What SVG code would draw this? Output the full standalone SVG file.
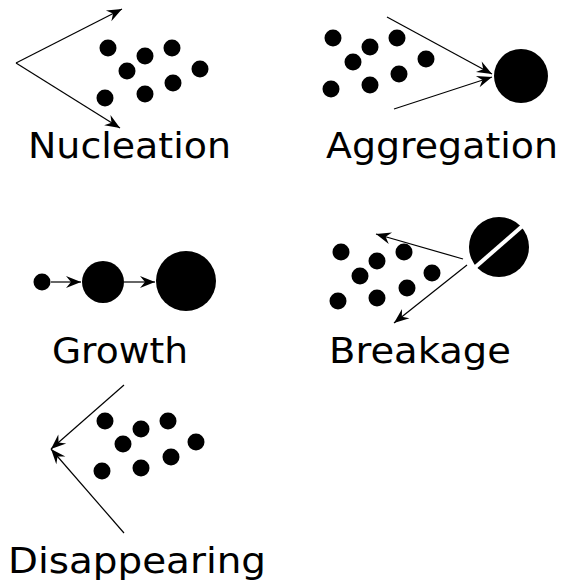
<svg xmlns="http://www.w3.org/2000/svg" width="562" height="583" viewBox="0 0 562 583">
  <style>
    .dot { fill: #000; }
    .link { stroke: #000; stroke-width: 1.2; fill: none; }
    .lbl { font-family: "DejaVu Sans", "Liberation Sans", sans-serif; font-size: 36px; fill: #000; }
  </style>
  <defs>
    <!-- concave filled arrowhead, tip at origin -->
    <marker id="head" viewBox="-16 -7 18 14" markerWidth="18" markerHeight="14" refX="0" refY="0" orient="auto" markerUnits="userSpaceOnUse">
      <path d="M0,0 L-15,-6 L-10,0 L-15,6 Z" fill="#000"/>
    </marker>
  </defs>

  <rect width="562" height="583" fill="#fff"/>

  <!-- Nucleation -->
  <g id="nucleation">
    <circle class="dot" cx="108" cy="48" r="8.5"/>
    <circle class="dot" cx="145" cy="56" r="8.5"/>
    <circle class="dot" cx="172" cy="48" r="8.5"/>
    <circle class="dot" cx="127" cy="71" r="8.5"/>
    <circle class="dot" cx="200" cy="69" r="8.5"/>
    <circle class="dot" cx="105" cy="98" r="8.5"/>
    <circle class="dot" cx="145" cy="94" r="8.5"/>
    <circle class="dot" cx="173" cy="83" r="8.5"/>
    <text class="lbl" x="28" y="158" textLength="203" lengthAdjust="spacingAndGlyphs">Nucleation</text>
  </g>

  <!-- Aggregation -->
  <g id="aggregation">
    <circle class="dot" cx="333" cy="38" r="8.5"/>
    <circle class="dot" cx="370" cy="47" r="8.5"/>
    <circle class="dot" cx="397" cy="38" r="8.5"/>
    <circle class="dot" cx="353" cy="62" r="8.5"/>
    <circle class="dot" cx="426" cy="59" r="8.5"/>
    <circle class="dot" cx="331" cy="89" r="8.5"/>
    <circle class="dot" cx="370" cy="85" r="8.5"/>
    <circle class="dot" cx="399" cy="74" r="8.5"/>
    <circle class="dot" cx="521" cy="76" r="27"/>
    <text class="lbl" x="326" y="158" textLength="232" lengthAdjust="spacingAndGlyphs">Aggregation</text>
  </g>

  <!-- Growth -->
  <g id="growth">
    <circle class="dot" cx="42" cy="282" r="8.5"/>
    <circle class="dot" cx="103" cy="282" r="21"/>
    <circle class="dot" cx="186" cy="281" r="30"/>
    <text class="lbl" x="52" y="363" textLength="136" lengthAdjust="spacingAndGlyphs">Growth</text>
  </g>

  <!-- Breakage -->
  <g id="breakage">
    <circle class="dot" cx="341" cy="252" r="8.5"/>
    <circle class="dot" cx="377" cy="261" r="8.5"/>
    <circle class="dot" cx="404" cy="252" r="8.5"/>
    <circle class="dot" cx="360" cy="276" r="8.5"/>
    <circle class="dot" cx="432" cy="273" r="8.5"/>
    <circle class="dot" cx="338" cy="301" r="8.5"/>
    <circle class="dot" cx="377" cy="298" r="8.5"/>
    <circle class="dot" cx="407" cy="288" r="8.5"/>
    <!-- particle split by a diagonal crack -->
    <circle class="dot" cx="499" cy="247" r="30"/>
    <line x1="472" y1="270" x2="527" y2="222" stroke="#fff" stroke-width="4"/>
    <text class="lbl" x="329" y="363" textLength="182" lengthAdjust="spacingAndGlyphs">Breakage</text>
  </g>

  <!-- Disappearing -->
  <g id="disappearing">
    <circle class="dot" cx="105" cy="421" r="8.5"/>
    <circle class="dot" cx="141" cy="429" r="8.5"/>
    <circle class="dot" cx="168" cy="421" r="8.5"/>
    <circle class="dot" cx="123" cy="444" r="8.5"/>
    <circle class="dot" cx="196" cy="442" r="8.5"/>
    <circle class="dot" cx="102" cy="471" r="8.5"/>
    <circle class="dot" cx="141" cy="468" r="8.5"/>
    <circle class="dot" cx="171" cy="457" r="8.5"/>
    <text class="lbl" x="8" y="573" textLength="258" lengthAdjust="spacingAndGlyphs">Disappearing</text>
  </g>

  <!-- connectors -->
  <g id="connectors">
    <polyline class="link" points="16,63 122,9" marker-end="url(#head)"/>
    <polyline class="link" points="16,63 120,128" marker-end="url(#head)"/>
    <line class="link" x1="387" y1="17" x2="492" y2="74" marker-end="url(#head)"/>
    <line class="link" x1="394" y1="109" x2="492" y2="77" marker-end="url(#head)"/>
    <line class="link" x1="51" y1="282" x2="81" y2="282" marker-end="url(#head)"/>
    <line class="link" x1="124" y1="282" x2="155" y2="282" marker-end="url(#head)"/>
    <line class="link" x1="463" y1="259" x2="376" y2="234" marker-end="url(#head)"/>
    <line class="link" x1="467" y1="265" x2="394" y2="323" marker-end="url(#head)"/>
    <line class="link" x1="124" y1="385" x2="51" y2="449" marker-end="url(#head)"/>
    <line class="link" x1="124" y1="533" x2="51" y2="449" marker-end="url(#head)"/>
  </g>
</svg>
